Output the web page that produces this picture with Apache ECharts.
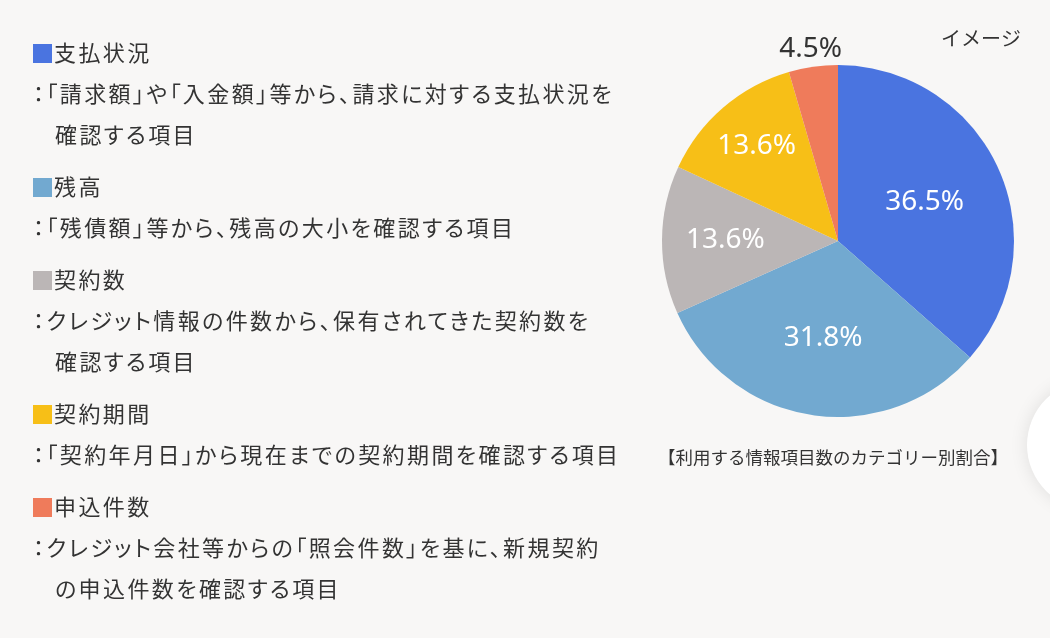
<!DOCTYPE html>
<html lang="ja">
<head>
<meta charset="utf-8">
<script src="https://cdn.jsdelivr.net/npm/echarts@6/dist/echarts.min.js"></script>
<style>
  html, body { margin: 0; padding: 0; background: #f8f7f6; }
  #main { position: absolute; left: 0; top: 0; width: 1050px; height: 638px; }
  #desc {
    position: absolute; left: 33px; top: 31px;
    font-family: "Noto Sans CJK JP", "Noto Sans", sans-serif;
    font-size: 22px; line-height: 41px; color: #333;
    letter-spacing: 2.4px; font-feature-settings: "palt";
  }
  #desc .item { margin-bottom: 11px; }
  #desc .sq { display: inline-block; width: 19px; height: 19px; margin-right: 2px; vertical-align: -2px; }
  #desc .sub { padding-left: 22px; }
</style>
</head>
<body>
<div id="main"></div>
<div id="desc"></div>
<script>
// カテゴリー（時計回り、12時の位置から）
const categories = ['支払状況', '残高', '契約数', '契約期間', '申込件数'];
const shares = [36.5, 31.8, 13.6, 13.6, 4.5];
const colors = ['#4a74e0', '#72a9d0', '#bbb6b6', '#f7bf17', '#ef7b5b'];
// 説明文（1行目 / 2行目）
const notes = [
  ['：「請求額」や「入金額」等から、請求に対する支払状況を', '確認する項目'],
  ['：「残債額」等から、残高の大小を確認する項目'],
  ['：クレジット情報の件数から、保有されてきた契約数を', '確認する項目'],
  ['：「契約年月日」から現在までの契約期間を確認する項目'],
  ['：クレジット会社等からの「照会件数」を基に、新規契約', 'の申込件数を確認する項目']
];
const caption = '【利用する情報項目数のカテゴリー別割合】';

// 左側の説明
const desc = document.getElementById('desc');
categories.forEach((name, i) => {
  let html = '<div class="item"><div><span class="sq" style="background:' + colors[i] + '"></span>' + name + '</div>';
  notes[i].forEach((line, j) => {
    html += '<div class="' + (j > 0 ? 'sub' : '') + '">' + line + '</div>';
  });
  html += '</div>';
  desc.innerHTML += html;
});

const cx = 838, cy = 241, R = 176;
// ラベルの半径（中心からの比率）
const labelRadius = [0.54, 0.56, 0.64, 0.71, 1.1];

const chart = echarts.init(document.getElementById('main'));
const total = shares.reduce((a, b) => a + b, 0);

chart.setOption({
  backgroundColor: '#f8f7f6',
  animation: false,
  graphic: [
    {
      type: 'circle', shape: { cx: 1092, cy: 445, r: 65 },
      style: { fill: '#fff', shadowBlur: 18, shadowColor: 'rgba(0,0,0,0.10)' }
    },
    {
      type: 'text', left: 941, top: 28,
      style: { text: 'イメージ', fontSize: 20, fill: '#333', fontFamily: 'Noto Sans CJK JP' }
    },
    {
      type: 'text', x: 833, y: 457,
      style: { text: caption, fontSize: 17.5, fill: '#333', fontFamily: 'Noto Sans CJK JP', align: 'center', verticalAlign: 'middle' }
    }
  ],
  series: [{
    type: 'pie',
    center: [cx, cy],
    radius: R,
    startAngle: 90,
    clockwise: true,
    silent: true,
    data: categories.map((name, i) => ({
      name: name,
      value: shares[i],
      itemStyle: { color: colors[i] },
      label: i === 4 ? { color: '#333' } : {}
    })),
    label: {
      show: true,
      position: 'inside',
      color: '#fff',
      fontSize: 28,
      fontFamily: 'Noto Sans',
      formatter: p => p.value.toFixed(1) + '%'
    },
    labelLine: { show: false },
    labelLayout: function (params) {
      const i = params.dataIndex;
      let before = 0;
      for (let k = 0; k < i; k++) before += shares[k];
      const mid = (before + shares[i] / 2) / total * Math.PI * 2;
      const r = R * labelRadius[i];
      return {
        x: cx + r * Math.sin(mid),
        y: cy - r * Math.cos(mid),
        align: 'center',
        verticalAlign: 'middle'
      };
    }
  }]
});
</script>
</body>
</html>
